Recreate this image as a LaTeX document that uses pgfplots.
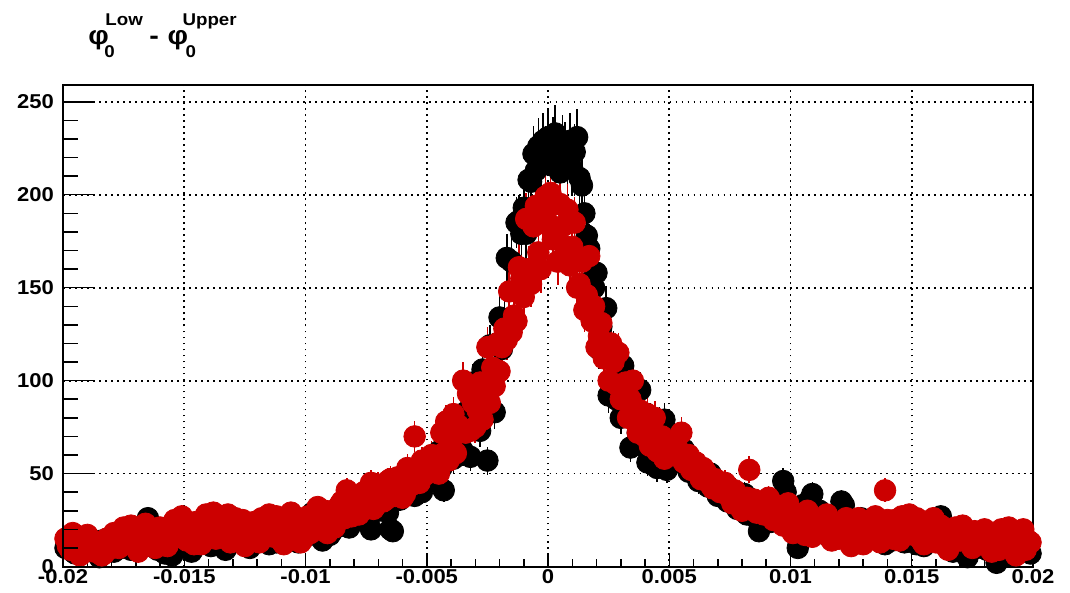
\documentclass[border=0pt]{standalone}
\usepackage{pgfplots}
\pgfplotsset{compat=1.18}
\usepackage{pgfplotstable}
\usepackage{fontspec}
\setmainfont{Liberation Sans}[FakeStretch=1.1]
\definecolor{rootred}{RGB}{204,0,0}
\pgfplotstableread{
x b r
-0.0199 10 15
-0.0198 13 11
-0.0197 14 9
-0.0196 8 18
-0.0195 7 16
-0.0194 11 13
-0.0193 12 6
-0.0192 15 10
-0.0191 16 12
-0.0190 10 17
-0.0189 9 14
-0.0188 12 9
-0.0187 13 8
-0.0186 7 13
-0.0185 5 11
-0.0184 14 6
-0.0183 11 7
-0.0182 9 15
-0.0181 14 13
-0.0180 11 10
-0.0179 8 18
-0.0178 13 14
-0.0177 15 10
-0.0176 10 19
-0.0175 12 21
-0.0174 16 12
-0.0173 18 15
-0.0172 9 22
-0.0171 10 19
-0.0170 14 11
-0.0169 16 8
-0.0168 12 16
-0.0167 22 17
-0.0166 17 23
-0.0165 26 13
-0.0164 11 19
-0.0163 14 20
-0.0162 19 10
-0.0161 9 12
-0.0160 15 21
-0.0159 13 18
-0.0158 7 14
-0.0157 21 11
-0.0156 16 19
-0.0155 6 16
-0.0154 12 25
-0.0153 17 22
-0.0152 14 16
-0.0151 12 27
-0.0150 20 20
-0.0149 19 14
-0.0148 10 23
-0.0147 8 20
-0.0146 17 12
-0.0145 15 24
-0.0144 13 18
-0.0143 23 12
-0.0142 15 25
-0.0141 17 28
-0.0140 20 21
-0.0139 11 19
-0.0138 16 29
-0.0137 20 15
-0.0136 12 23
-0.0135 14 27
-0.0134 19 16
-0.0133 9 22
-0.0132 15 28
-0.0131 18 13
-0.0130 13 20
-0.0129 24 26
-0.0128 17 14
-0.0127 13 17
-0.0126 20 25
-0.0125 16 11
-0.0124 11 19
-0.0123 10 21
-0.0122 18 15
-0.0121 21 24
-0.0120 14 18
-0.0119 15 13
-0.0118 19 26
-0.0117 25 19
-0.0116 16 22
-0.0115 12 28
-0.0114 22 17
-0.0113 19 16
-0.0112 13 27
-0.0111 14 24
-0.0110 20 14
-0.0109 22 12
-0.0108 15 23
-0.0107 17 21
-0.0106 24 29
-0.0105 27 18
-0.0104 18 24
-0.0103 13 25
-0.0102 21 13
-0.0101 20 15
-0.0100 16 22
-0.0099 17 27
-0.0098 23 18
-0.0097 29 20
-0.0096 18 26
-0.0095 21 32
-0.0094 26 24
-0.0093 14 23
-0.0092 22 30
-0.0091 25 18
-0.0090 17 27
-0.0089 19 29
-0.0088 27 21
-0.0087 31 24
-0.0086 23 33
-0.0085 22 35
-0.0084 30 26
-0.0083 26 41
-0.0082 21 30
-0.0081 35 27
-0.0080 29 37
-0.0079 28 34
-0.0078 33 28
-0.0077 37 30
-0.0076 27 40
-0.0075 24 39
-0.0074 31 34
-0.0073 20 45
-0.0072 35 31
-0.0071 41 33
-0.0070 30 44
-0.0069 33 43
-0.0068 38 35
-0.0067 39 36
-0.0066 29 46
-0.0065 20 47
-0.0064 19 40
-0.0063 44 38
-0.0062 37 48
-0.0061 36 42
-0.0060 45 37
-0.0059 47 39
-0.0058 42 53
-0.0057 40 51
-0.0056 48 44
-0.0055 38 70
-0.0054 46 52
-0.0053 52 45
-0.0052 40 57
-0.0051 44 49
-0.0050 51 55
-0.0049 55 53
-0.0048 50 60
-0.0047 48 58
-0.0046 57 52
-0.0045 62 50
-0.0044 53 72
-0.0043 41 61
-0.0042 59 78
-0.0041 66 57
-0.0040 61 66
-0.0039 58 82
-0.0038 67 61
-0.0037 70 76
-0.0036 64 73
-0.0035 62 100
-0.0034 83 72
-0.0033 77 93
-0.0032 59 73
-0.0031 99 88
-0.0030 77 75
-0.0029 91 84
-0.0028 73 99
-0.0027 106 79
-0.0026 93 90
-0.0025 57 118
-0.0024 119 88
-0.0023 98 107
-0.0022 83 97
-0.0021 120 120
-0.0020 134 105
-0.0019 117 118
-0.0018 133 128
-0.0017 166 122
-0.0016 131 148
-0.0015 164 126
-0.0014 131 135
-0.0013 185 132
-0.0012 186 161
-0.0011 179 155
-0.0010 193 145
-0.0009 179 187
-0.0008 208 160
-0.0007 207 152
-0.0006 222 183
-0.0005 213 194
-0.0004 226 169
-0.0003 219 160
-0.0002 229 189
-0.0001 222 199
0.0000 231 185
0.0001 216 201
0.0002 227 176
0.0003 233 195
0.0004 221 164
0.0005 212 195
0.0006 228 183
0.0007 224 172
0.0008 218 192
0.0009 229 162
0.0010 214 172
0.0011 223 185
0.0012 231 150
0.0013 209 152
0.0014 205 164
0.0015 190 138
0.0016 178 146
0.0017 171 167
0.0018 154 132
0.0019 150 140
0.0020 158 118
0.0021 117 124
0.0022 129 131
0.0023 116 112
0.0024 139 118
0.0025 92 100
0.0026 116 120
0.0027 116 110
0.0028 90 98
0.0029 112 115
0.0030 80 90
0.0031 108 93
0.0032 88 99
0.0033 97 80
0.0034 64 90
0.0035 96 100
0.0036 84 79
0.0037 72 72
0.0038 95 84
0.0039 65 77
0.0040 78 70
0.0041 56 82
0.0042 79 65
0.0043 67 71
0.0044 79 80
0.0045 53 62
0.0046 77 63
0.0047 57 70
0.0048 79 58
0.0049 52 64
0.0050 66 63
0.0051 68 60
0.0052 62 66
0.0053 59 65
0.0054 57 61
0.0055 61 72
0.0056 63 56
0.0057 54 58
0.0058 51 60
0.0059 57 52
0.0060 55 54
0.0061 49 56
0.0062 46 50
0.0063 53 47
0.0064 48 53
0.0065 45 51
0.0066 43 48
0.0067 50 44
0.0068 47 42
0.0069 41 47
0.0070 38 45
0.0071 44 40
0.0072 40 43
0.0073 38 45
0.0074 35 39
0.0075 42 37
0.0076 37 34
0.0077 36 41
0.0078 31 38
0.0079 33 35
0.0080 36 30
0.0081 39 31
0.0082 28 37
0.0083 30 52
0.0084 33 33
0.0085 35 36
0.0086 26 29
0.0087 19 33
0.0088 22 31
0.0089 31 28
0.0090 29 35
0.0091 28 37
0.0092 24 30
0.0093 34 25
0.0094 30 33
0.0095 26 31
0.0096 31 27
0.0097 46 22
0.0098 40 29
0.0099 24 34
0.0100 32 26
0.0101 29 18
0.0102 25 24
0.0103 10 27
0.0104 21 20
0.0105 33 22
0.0106 28 17
0.0107 22 30
0.0108 36 21
0.0109 39 16
0.0110 26 22
0.0111 21 25
0.0112 30 19
0.0113 27 19
0.0114 19 26
0.0115 17 28
0.0116 24 21
0.0117 25 14
0.0118 15 20
0.0119 20 23
0.0120 28 15
0.0121 35 17
0.0122 33 24
0.0123 16 26
0.0124 21 16
0.0125 23 11
0.0126 17 19
0.0127 19 21
0.0128 24 26
0.0129 26 15
0.0130 18 12
0.0131 14 24
0.0132 20 20
0.0133 22 18
0.0134 15 23
0.0135 18 27
0.0136 23 16
0.0137 25 13
0.0138 16 22
0.0139 12 41
0.0140 19 25
0.0141 21 19
0.0142 14 15
0.0143 17 25
0.0144 22 21
0.0145 24 14
0.0146 18 27
0.0147 13 22
0.0148 16 18
0.0149 20 28
0.0150 25 23
0.0151 16 17
0.0152 12 26
0.0153 23 24
0.0154 19 14
0.0155 11 12
0.0156 17 20
0.0157 19 21
0.0158 14 16
0.0159 15 26
0.0160 21 13
0.0161 26 16
0.0162 27 22
0.0163 13 20
0.0164 17 11
0.0165 18 9
0.0166 12 17
0.0167 8 15
0.0168 15 21
0.0169 16 19
0.0170 10 14
0.0171 12 22
0.0172 17 18
0.0173 5 14
0.0174 9 16
0.0175 17 10
0.0176 13 19
0.0177 10 18
0.0178 15 13
0.0179 14 12
0.0180 11 20
0.0181 9 16
0.0182 13 11
0.0183 15 8
0.0184 7 17
0.0185 2 13
0.0186 11 9
0.0187 12 20
0.0188 18 14
0.0189 16 11
0.0190 6 21
0.0191 8 15
0.0192 14 18
0.0193 13 6
0.0194 11 12
0.0195 10 17
0.0196 15 20
0.0197 14 9
0.0198 9 14
0.0199 7 13
}\datatable
\begin{document}
\begin{tikzpicture}
\useasboundingbox (-31.5pt,-13pt) rectangle (503pt,283pt);
\begin{axis}[
  at={(0,0)}, anchor=south west,
  scale only axis, width=484.5pt, height=240.5pt,
  xmin=-0.02, xmax=0.02, ymin=0, ymax=259,
  clip=false,
  axis line style={line width=1pt},
  tick pos=left, tick align=inside,
  xtick={-0.02,-0.015,-0.01,-0.005,0,0.005,0.01,0.015,0.02},
  xticklabels={-0.02,-0.015,-0.01,-0.005,0,0.005,0.01,0.015,0.02},
  scaled x ticks=false,
  minor x tick num=4,
  ytick={0,50,100,150,200,250},
  yticklabels={},
  ytick style={draw=none},
  major tick length=6.5pt, minor tick length=4pt,
  xtick style={line width=0.75pt, black},
  grid=major,
  grid style={black, line width=0.9pt, dash pattern=on 0.9pt off 2.1pt},
  xticklabel style={font=\fontsize{10}{12}\selectfont\bfseries, yshift=2pt},
]
\addplot[only marks, mark=*, mark size=5.4pt, mark options={draw=black, fill=black},
  error bars/.cd, y dir=both, y explicit, error mark=none,
  error bar style={line width=0.8pt, black}]
  table[x=x, y=b, y error expr={sqrt(\thisrow{b})}] {\datatable};
\addplot[only marks, mark=*, mark size=5.4pt, mark options={draw=rootred, fill=rootred},
  error bars/.cd, y dir=both, y explicit, error mark=none,
  error bar style={line width=0.8pt, rootred}]
  table[x=x, y=r, y error expr={sqrt(\thisrow{r})}] {\datatable};
\end{axis}
\begin{axis}[
  at={(0,0)}, anchor=south west,
  scale only axis, width=484.5pt, height=240.5pt,
  xmin=-0.02, xmax=0.02, ymin=0, ymax=259,
  hide x axis,
  axis y line*=left,
  y axis line style={line width=1pt},
  tick align=inside,
  ytick={0,50,100,150,200,250},
  yticklabels={0,50,100,150,200,250},
  minor y tick num=4,
  major tick length=16pt, minor tick length=7.5pt,
  ytick style={line width=0.75pt, black},
  yticklabel style={font=\fontsize{10}{12}\selectfont\bfseries, xshift=-1pt},
]
\addplot[draw=none] coordinates {(0,0)};
\end{axis}
\begin{scope}[every node/.style={inner sep=0pt, anchor=base west}]
\node[font=\fontsize{13}{13}\selectfont\bfseries] at (12.5pt,261pt) {φ};
\node[font=\fontsize{8.5}{9}\selectfont\bfseries] at (21pt,270.5pt) {Low};
\node[font=\fontsize{8.5}{9}\selectfont\bfseries] at (20.5pt,254.5pt) {0};
\node[font=\fontsize{13}{13}\selectfont\bfseries, anchor=base] at (45.5pt,261pt) {-};
\node[font=\fontsize{13}{13}\selectfont\bfseries] at (52pt,261pt) {φ};
\node[font=\fontsize{8.5}{9}\selectfont\bfseries] at (59.5pt,270.5pt) {Upper};
\node[font=\fontsize{8.5}{9}\selectfont\bfseries] at (61pt,254.5pt) {0};
\end{scope}
\end{tikzpicture}
\end{document}
